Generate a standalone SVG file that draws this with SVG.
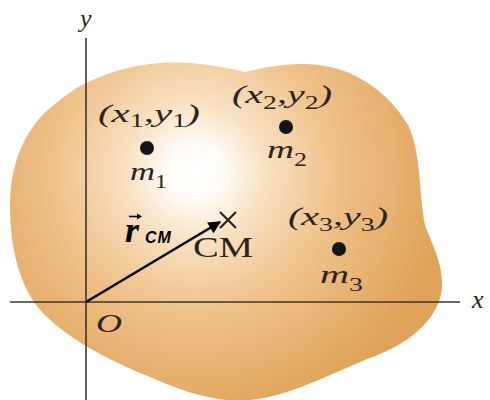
<svg xmlns="http://www.w3.org/2000/svg" width="490" height="400" viewBox="0 0 490 400">
<style>
.lbl{font-family:"Liberation Serif","DejaVu Serif",serif;font-style:italic;font-size:26px;fill:#2a2420}
.sub{font-size:18px;font-style:normal}
.ax{stroke:#3a3530;stroke-width:1.6;fill:none}
.dot{fill:#141414}
</style>
<defs>
<radialGradient id="g" gradientUnits="userSpaceOnUse" cx="195" cy="172" r="255">
<stop offset="0" stop-color="#ffffff"/>
<stop offset="0.1" stop-color="#fffdf9"/>
<stop offset="0.28" stop-color="#f8e0c0"/>
<stop offset="0.55" stop-color="#efc189"/>
<stop offset="1" stop-color="#dfa258"/>
</radialGradient>
<marker id="ah" viewBox="0 0 10 10" refX="9" refY="5" markerWidth="6" markerHeight="5" orient="auto" markerUnits="strokeWidth">
<path d="M0,0 L10,5 L0,10 Z" fill="#000"/>
</marker>
</defs>
<g id="body">
<path d="M86,83 C110,72 132,65 160,63 C192,61 218,66 245,72 C270,66 296,61 325,66 C360,72 390,95 408,125 C421,150 419,195 425,225 C432,245 446,268 441,295 C433,325 405,345 370,358 C330,374 290,396 250,400 C215,403 185,392 150,377 C110,361 70,340 45,315 C20,290 10,250 10,205 C10,160 28,124 55,104 C65,96 75,88 86,83 Z" fill="url(#g)"/>
</g>
<g id="axes">
<line class="ax" x1="86" y1="38" x2="86" y2="400"/>
<line class="ax" x1="10" y1="302" x2="460" y2="302"/>
<text class="lbl" x="80" y="27" font-size="28">y</text>
<text class="lbl" x="472" y="308" font-size="28">x</text>
<text class="lbl" x="96" y="332" font-size="28" textLength="26" lengthAdjust="spacingAndGlyphs">O</text>
</g>
<g id="m1">
<circle class="dot" cx="147" cy="148" r="7"/>
<text class="lbl" x="98" y="122" textLength="102" lengthAdjust="spacingAndGlyphs">(x<tspan class="sub" dy="5">1</tspan><tspan dy="-5">,y</tspan><tspan class="sub" dy="5">1</tspan><tspan dy="-5">)</tspan></text>
<text class="lbl" x="130" y="180" textLength="37" lengthAdjust="spacingAndGlyphs">m<tspan class="sub" dy="8">1</tspan></text>
</g>
<g id="m2">
<circle class="dot" cx="286" cy="127" r="7"/>
<text class="lbl" x="232" y="103" textLength="100" lengthAdjust="spacingAndGlyphs">(x<tspan class="sub" dy="6">2</tspan><tspan dy="-6">,y</tspan><tspan class="sub" dy="6">2</tspan><tspan dy="-6">)</tspan></text>
<text class="lbl" x="267" y="158" textLength="40" lengthAdjust="spacingAndGlyphs">m<tspan class="sub" dy="8">2</tspan></text>
</g>
<g id="m3">
<circle class="dot" cx="339" cy="249" r="7"/>
<text class="lbl" x="288" y="225" textLength="100" lengthAdjust="spacingAndGlyphs">(x<tspan class="sub" dy="6">3</tspan><tspan dy="-6">,y</tspan><tspan class="sub" dy="6">3</tspan><tspan dy="-6">)</tspan></text>
<text class="lbl" x="320" y="283" textLength="43" lengthAdjust="spacingAndGlyphs">m<tspan class="sub" dy="8">3</tspan></text>
</g>
<g id="cm">
<path d="M220,212 L236,228 M236,212 L220,228" stroke="#2a2420" stroke-width="2.2" fill="none"/>
<text x="193" y="257" font-family="Liberation Serif, DejaVu Serif, serif" font-size="29" fill="#2a2420" textLength="60" lengthAdjust="spacingAndGlyphs">CM</text>
</g>
<g id="connectors">
<line x1="86" y1="302" x2="220" y2="222" stroke="#000" stroke-width="2.5" marker-end="url(#ah)"/>
<path d="M129,216.5 L139,216.5" stroke="#000" stroke-width="1.6" fill="none"/>
<path d="M137,213.5 L142,216.5 L137,219.5 Z" fill="#000"/>
<text font-weight="bold" fill="#000"><tspan x="125" y="242" font-family="Liberation Serif, serif" font-style="italic" font-size="36">r</tspan><tspan x="145" y="243" font-family="Liberation Sans, sans-serif" font-style="italic" font-size="16" letter-spacing="1">CM</tspan></text>
</g>
</svg>
